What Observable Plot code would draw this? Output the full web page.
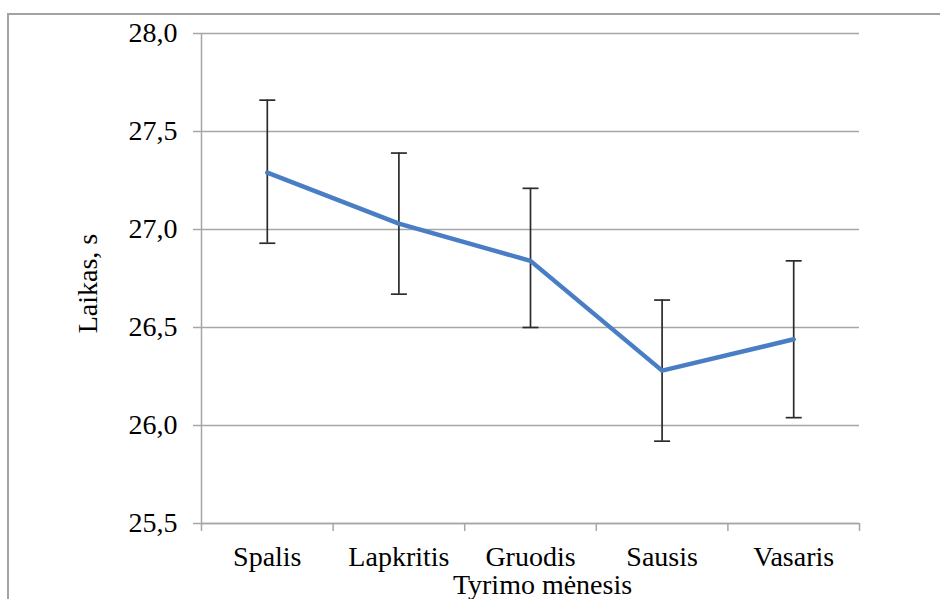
<!DOCTYPE html>
<html>
<head>
<meta charset="utf-8">
<script src="https://cdn.jsdelivr.net/npm/d3@7"></script>
<script src="https://cdn.jsdelivr.net/npm/@observablehq/plot@0.6"></script>
<style>
  html, body { margin: 0; padding: 0; background: #fff; }
  #wrap { position: relative; width: 940px; height: 599px; overflow: hidden; }
  #border { position: absolute; left: 7px; top: 13px; width: 960px; height: 620px;
            border-left: 2px solid #a3a3a3; border-top: 2px solid #a3a3a3; }
  #chart { position: absolute; left: 0; top: 0; }
</style>
</head>
<body>
<div id="wrap"><div id="border"></div><div id="chart"></div></div>
<script>
const categories = ["Spalis", "Lapkritis", "Gruodis", "Sausis", "Vasaris"];
const means = [27.29, 27.03, 26.84, 26.28, 26.44];
const upper = [27.66, 27.39, 27.21, 26.64, 26.84];
const lower = [26.93, 26.67, 26.50, 25.92, 26.04];
const yTicks = [25.5, 26.0, 26.5, 27.0, 27.5, 28.0];
const yLabel = "Laikas, s";
const xLabel = "Tyrimo mėnesis";

const data = categories.map((c, i) => ({
  cat: c, pos: i + 0.5, mean: means[i], hi: upper[i], lo: lower[i]
}));
const boundaries = d3.range(categories.length + 1);
const centers = categories.map((c, i) => i + 0.5);
const fmt = d => d.toFixed(1).replace(".", ",");

const capSymbol = {
  draw(ctx, size) {
    const w = Math.sqrt(size / Math.PI);
    ctx.moveTo(-w, 0);
    ctx.lineTo(w, 0);
  }
};

const grid = "#a6a6a6";
const chart = Plot.plot({
  width: 940,
  height: 599,
  marginLeft: 201,
  marginRight: 81,
  marginTop: 33,
  marginBottom: 76,
  style: { fontFamily: "'Liberation Serif', 'Times New Roman', serif", fontSize: "28px", color: "#000", background: "transparent" },
  x: { type: "linear", domain: [0, categories.length] },
  y: { domain: [25.5, 28.0] },
  marks: [
    Plot.gridY(yTicks, { stroke: grid, strokeOpacity: 1, strokeWidth: 1.5 }),
    Plot.ruleX([0], { stroke: grid, strokeWidth: 1.5 }),
    Plot.ruleY([25.5], { stroke: grid, strokeWidth: 1.5 }),
    Plot.axisY(yTicks, { tickSize: 8, tickPadding: 16, tickFormat: fmt, stroke: grid, strokeWidth: 1.5, fill: "#000", fontSize: 28, label: null }),
    Plot.axisX(boundaries, { tickSize: 8, tickFormat: () => "", stroke: grid, strokeWidth: 1.5, label: null }),
    Plot.axisX(centers, { tickSize: 0, tickPadding: 23, tickFormat: d => categories[Math.round(d - 0.5)], fill: "#000", fontSize: 28, label: null }),
    Plot.ruleX(data, { x: "pos", y1: "lo", y2: "hi", stroke: "#2b2b2b", strokeWidth: 1.7 }),
    Plot.dot(data, { x: "pos", y: "hi", symbol: capSymbol, r: 8, stroke: "#2b2b2b", strokeWidth: 1.7 }),
    Plot.dot(data, { x: "pos", y: "lo", symbol: capSymbol, r: 8, stroke: "#2b2b2b", strokeWidth: 1.7 }),
    Plot.line(data, { x: "pos", y: "mean", stroke: "#4a7ec4", strokeWidth: 4.5, strokeLinejoin: "round" }),
    Plot.text([yLabel], { frameAnchor: "left", textAnchor: "middle", lineAnchor: "middle", dx: -113, dy: 5, rotate: -90, fontSize: 28, fill: "#000" }),
    Plot.text([xLabel], { frameAnchor: "bottom", textAnchor: "middle", lineAnchor: "middle", dx: 12, dy: 62, fontSize: 28, fill: "#000" })
  ]
});
document.getElementById("chart").appendChild(chart);
</script>
</body>
</html>
